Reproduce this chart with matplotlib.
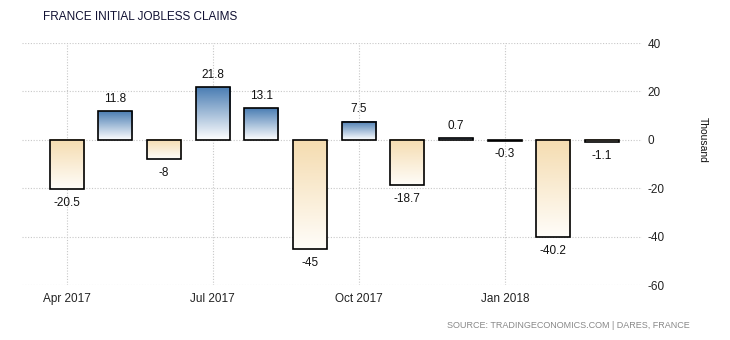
import numpy as np
import matplotlib
matplotlib.use("Agg")
import matplotlib.pyplot as plt
from matplotlib.colors import LinearSegmentedColormap

months = ["Apr 2017", "May 2017", "Jun 2017", "Jul 2017", "Aug 2017", "Sep 2017",
          "Oct 2017", "Nov 2017", "Dec 2017", "Jan 2018", "Feb 2018", "Mar 2018"]
claims = [-20.5, 11.8, -8, 21.8, 13.1, -45, 7.5, -18.7, 0.7, -0.3, -40.2, -1.1]
tick_labels = ["Apr 2017", "Jul 2017", "Oct 2017", "Jan 2018"]
y_ticks = [-60, -40, -20, 0, 20, 40]

plt.rcParams["font.family"] = ["Liberation Sans", "DejaVu Sans"]

fig = plt.figure(figsize=(7.3, 3.4), dpi=100)
ax = fig.add_axes([22 / 730, 1 - 285 / 340, 620 / 730, 242 / 340])

x = np.arange(len(claims))
bars = ax.bar(x, claims, width=0.7, facecolor="none", edgecolor="black",
              linewidth=1.2, zorder=3)

blue = LinearSegmentedColormap.from_list("blue", ["#ffffff", "#4a7db3"])
beige = LinearSegmentedColormap.from_list("beige", ["#fffdf9", "#f5dcb0"])
grad = np.linspace(0, 1, 256).reshape(-1, 1)

for rect, v in zip(bars, claims):
    x0 = rect.get_x()
    w = rect.get_width()
    y0 = min(0, v)
    y1 = max(0, v)
    cmap = blue if v > 0 else beige
    ax.imshow(grad, cmap=cmap, extent=[x0, x0 + w, y0, y1], origin="lower",
              aspect="auto", zorder=2, interpolation="bilinear")
    if v >= 0:
        ax.annotate(f"{v:g}", (x0 + w / 2, v), xytext=(0, 9), textcoords="offset points",
                    ha="center", va="center", fontsize=8.5, color="#111111")
    else:
        ax.annotate(f"{v:g}", (x0 + w / 2, v), xytext=(0, -10), textcoords="offset points",
                    ha="center", va="center", fontsize=8.5, color="#111111")

ax.set_xlim(-0.92, 11.82)
ax.set_ylim(-60, 40)

ax.set_xticks([months.index(t) for t in tick_labels])
ax.set_xticklabels(tick_labels, fontsize=8.5, color="#222222")
ax.set_yticks(y_ticks)
ax.set_yticklabels([f"{t:g}" for t in y_ticks], fontsize=8.5, color="#222222")
ax.yaxis.tick_right()
ax.tick_params(axis="both", length=0)
ax.tick_params(axis="x", pad=6)
ax.tick_params(axis="y", pad=4)

ax.grid(True, color="#c8c8c8", linestyle=(0, (1, 1.5)), linewidth=0.8, zorder=0)
ax.set_axisbelow(True)
for s in ax.spines.values():
    s.set_visible(False)

fig.text(43 / 730, 1 - 17 / 340, "FRANCE INITIAL JOBLESS CLAIMS", fontsize=8.5,
         color="#111133", va="center", ha="left")
fig.text(703 / 730, 1 - 140 / 340, "Thousand", rotation=270, fontsize=7.5,
         color="#111111", va="center", ha="center")
fig.text(690 / 730, 1 - 325 / 340, "SOURCE: TRADINGECONOMICS.COM | DARES, FRANCE",
         fontsize=6.5, color="#888888", va="center", ha="right")

fig.savefig("out.png", dpi=100)
